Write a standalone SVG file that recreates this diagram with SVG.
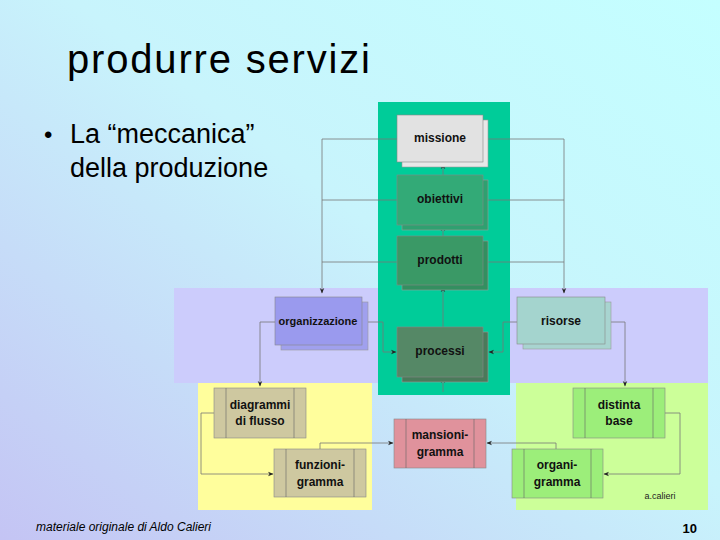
<svg xmlns="http://www.w3.org/2000/svg" width="720" height="540" viewBox="0 0 720 540">
<defs>
<linearGradient id="bg" x1="0" y1="1" x2="1" y2="0">
<stop offset="0" stop-color="#c4c4f4"/><stop offset="0.55" stop-color="#c8f4fc"/><stop offset="1" stop-color="#c4ffff"/>
</linearGradient>
<marker id="ah" viewBox="0 0 10 10" refX="9" refY="5" markerWidth="7" markerHeight="7" orient="auto-start-reverse">
<path d="M0,1 L10,5 L0,9 L3,5 Z" fill="#222"/>
</marker>
<style>
.t{font-family:"Liberation Sans",Arial,sans-serif;font-weight:bold;font-size:12px;fill:#111;text-anchor:middle}
.c{fill:none;stroke:#777;stroke-width:0.8;marker-end:url(#ah)}
.ln{fill:none;stroke:#777;stroke-width:0.8}
.sh{stroke:#999;stroke-width:0.6}
.bx{stroke:#888;stroke-width:0.6}
.v{stroke:#666;stroke-width:0.6}
</style>
</defs>
<rect width="720" height="540" fill="url(#bg)"/>
<text x="67" y="73" font-family="Liberation Sans,Arial,sans-serif" font-size="40" textLength="303" fill="#000">produrre servizi</text>
<text x="44" y="143" font-family="Liberation Sans,Arial,sans-serif" font-size="24" fill="#000">•</text>
<text x="70" y="143" font-family="Liberation Sans,Arial,sans-serif" font-size="27" fill="#000">La “meccanica”</text>
<text x="70" y="177" font-family="Liberation Sans,Arial,sans-serif" font-size="27" fill="#000">della produzione</text>
<rect x="174" y="288" width="534" height="95" fill="#ccccfc"/>
<rect x="198" y="383" width="174" height="127" fill="#fffe9c"/>
<rect x="516" y="383" width="192" height="127" fill="#ccff99"/>
<rect x="378" y="102" width="132" height="293" fill="#00cc99"/>
<g id="connectors">
<path class="ln" d="M397,139 H322 M483,139 H564 M397,200 H322 M483,200 H564 M397,262 H322 M483,262 H564"/>
<path class="c" d="M322,139 V293"/>
<path class="c" d="M564,139 V293"/>
<path class="c" d="M443,175 V164"/>
<path class="c" d="M443,236 V226"/>
<path class="c" d="M443,327 V287"/>
<path class="c" d="M443,392 V378"/>
<path class="c" d="M362,322 H383 V352 H396"/>
<path class="c" d="M517,322 H503 V352 H489"/>
<path class="c" d="M275,322 H260 V386"/>
<path class="c" d="M605,322 H625 V386"/>
<path class="c" d="M214,413 H201 V474 H273"/>
<path class="c" d="M664,413 H680 V474 H604"/>
<path class="c" d="M320,449 V443 H393"/>
<path class="c" d="M556,449 V443 H487"/>
</g>
<g id="missione"><rect class="sh" x="402" y="120" width="86" height="47" fill="#e8e8e8"/><rect class="bx" x="397" y="115" width="86" height="47" fill="#e2e2e2"/><text class="t" x="440" y="142">missione</text></g>
<g id="obiettivi"><rect class="sh" x="402" y="180" width="86" height="50" fill="#2fa070"/><rect class="bx" x="397" y="175" width="86" height="50" fill="#33aa77"/><text class="t" x="440" y="203">obiettivi</text></g>
<g id="prodotti"><rect class="sh" x="402" y="241" width="86" height="49" fill="#338f60"/><rect class="bx" x="397" y="236" width="86" height="49" fill="#3a9966"/><text class="t" x="440" y="264">prodotti</text></g>
<g id="processi"><rect class="sh" x="402" y="332" width="86" height="50" fill="#4a7a5a"/><rect class="bx" x="397" y="327" width="86" height="50" fill="#558866"/><text class="t" x="440" y="355">processi</text></g>
<g id="organizzazione"><rect class="sh" x="281" y="302" width="87" height="48" fill="#a0a0ee"/><rect class="bx" x="275" y="297" width="87" height="48" fill="#9a9aee"/><text class="t" x="318" y="325" style="font-size:11px">organizzazione</text></g>
<g id="risorse"><rect class="sh" x="523" y="302" width="88" height="47" fill="#a8d4d0"/><rect class="bx" x="517" y="297" width="88" height="47" fill="#a4d4ce"/><text class="t" x="561" y="325">risorse</text></g>
<g id="diagrammi"><rect class="bx" x="214" y="388" width="92" height="50" fill="#cec8a0"/><path class="v" d="M226,388 V438 M294,388 V438"/><text class="t" x="260" y="409">diagrammi</text><text class="t" x="260" y="425">di flusso</text></g>
<g id="funzioni"><rect class="bx" x="274" y="449" width="92" height="48" fill="#cec8a0"/><path class="v" d="M286,449 V497 M354,449 V497"/><text class="t" x="320" y="469">funzioni-</text><text class="t" x="320" y="486">gramma</text></g>
<g id="mansioni"><rect class="bx" x="394" y="419" width="92" height="49" fill="#e0929c"/><path class="v" d="M406,419 V468 M474,419 V468"/><text class="t" x="440" y="439">mansioni-</text><text class="t" x="440" y="456">gramma</text></g>
<g id="distinta"><rect class="bx" x="573" y="388" width="92" height="50" fill="#9cee7a"/><path class="v" d="M585,388 V438 M653,388 V438"/><text class="t" x="619" y="409">distinta</text><text class="t" x="619" y="425">base</text></g>
<g id="organi"><rect class="bx" x="512" y="449" width="91" height="49" fill="#9cee7a"/><path class="v" d="M524,449 V498 M591,449 V498"/><text class="t" x="557" y="469">organi-</text><text class="t" x="557" y="486">gramma</text></g>
<text x="660" y="499" font-family="Liberation Sans,Arial,sans-serif" font-size="9" fill="#222" text-anchor="middle">a.calieri</text>
<text x="36" y="531" font-family="Liberation Sans,Arial,sans-serif" font-size="12" font-style="italic" fill="#000">materiale originale di Aldo Calieri</text>
<text x="697" y="533" font-family="Liberation Sans,Arial,sans-serif" font-size="13" font-weight="bold" fill="#000" text-anchor="end">10</text>
</svg>
